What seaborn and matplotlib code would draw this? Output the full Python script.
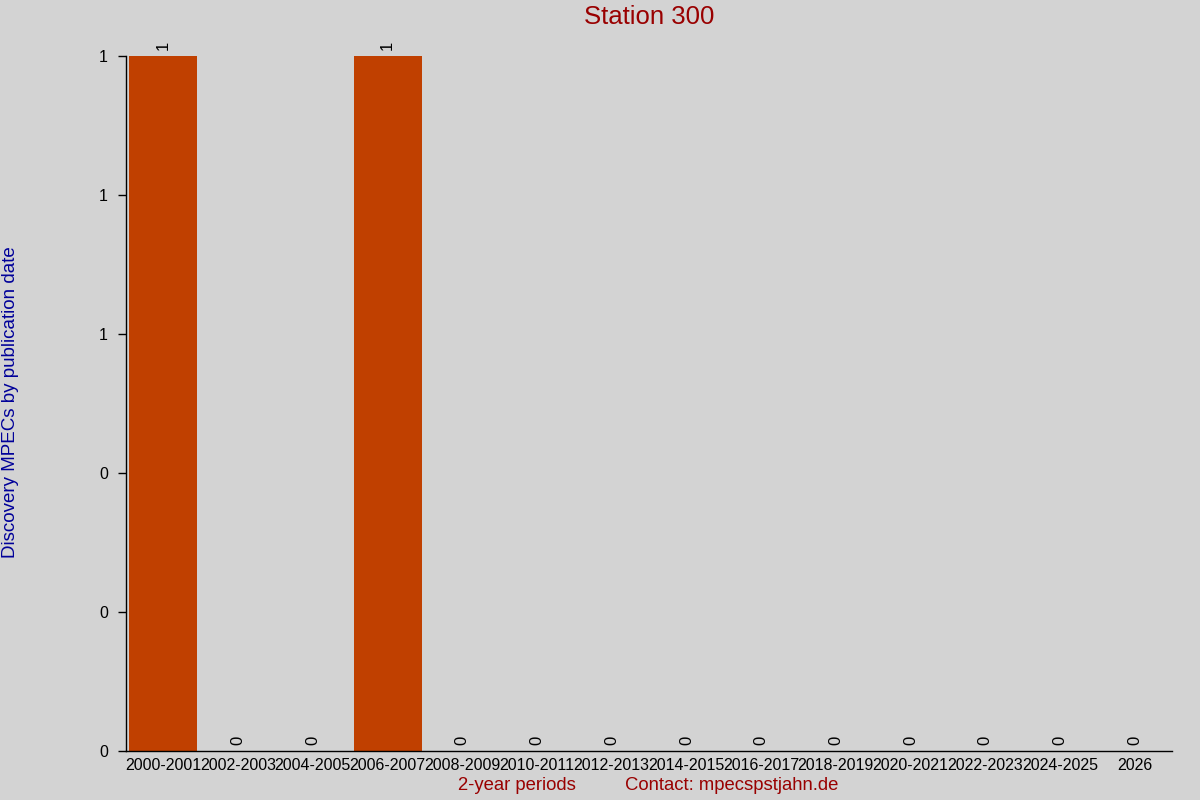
import seaborn as sns
import matplotlib.pyplot as plt
import pandas as pd

# discovery MPECs per 2-year period for station 300
periods = ['2000-2001', '2002-2003', '2004-2005', '2006-2007', '2008-2009',
           '2010-2011', '2012-2013', '2014-2015', '2016-2017', '2018-2019',
           '2020-2021', '2022-2023', '2024-2025', '2026']
counts = [1, 0, 0, 1, 0, 0, 0, 0, 0, 0, 0, 0, 0, 0]
yticks = [0, 0.2, 0.4, 0.6, 0.8, 1.0]

df = pd.DataFrame({'period': periods, 'count': counts})

sns.set_style('white')
plt.rcParams['font.family'] = ['Liberation Sans', 'DejaVu Sans']

bg = '#d3d3d3'
fig = plt.figure(figsize=(12, 8), dpi=100, facecolor=bg)
ax = fig.add_axes([0.105, 0.06125, 0.8717, 0.86875])
ax.set_facecolor(bg)

sns.barplot(data=df, x='period', y='count', color='#c04000', width=0.91,
            saturation=1, edgecolor='none', linewidth=0, ax=ax)

for c in ax.containers:
    ax.bar_label(c, labels=[str(v) for v in counts], rotation=90,
                 padding=4, fontsize=12, color='black')

ax.set_xlim(-0.5, len(periods) - 0.5)
ax.set_ylim(0, 1)
ax.set_yticks(yticks)
ax.set_yticklabels(['%.0f' % v for v in yticks])
ax.set_xlabel('')
ax.set_ylabel('')

for s in ['top', 'right']:
    ax.spines[s].set_visible(False)
for s in ['left', 'bottom']:
    ax.spines[s].set_color('black')
    ax.spines[s].set_linewidth(1)

ax.tick_params(axis='x', length=0, pad=5, labelsize=11.5, colors='black')
ax.tick_params(axis='y', length=6, width=1, pad=7, labelsize=11.5,
               colors='black', left=True)

fig.text(0.541, 0.979, 'Station 300', ha='center', va='center',
         fontsize=18.5, color='#990000')
fig.text(0.009, 0.497, 'Discovery MPECs by publication date', rotation=90,
         ha='center', va='center', fontsize=13.5, color='#000099')
fig.text(0.431, 0.018, '2-year periods', ha='center', va='center',
         fontsize=13.3, color='#990000')
fig.text(0.61, 0.018, 'Contact: mpecspstjahn.de', ha='center', va='center',
         fontsize=13.3, color='#990000')

fig.savefig('out.png', dpi=100, facecolor=bg)
